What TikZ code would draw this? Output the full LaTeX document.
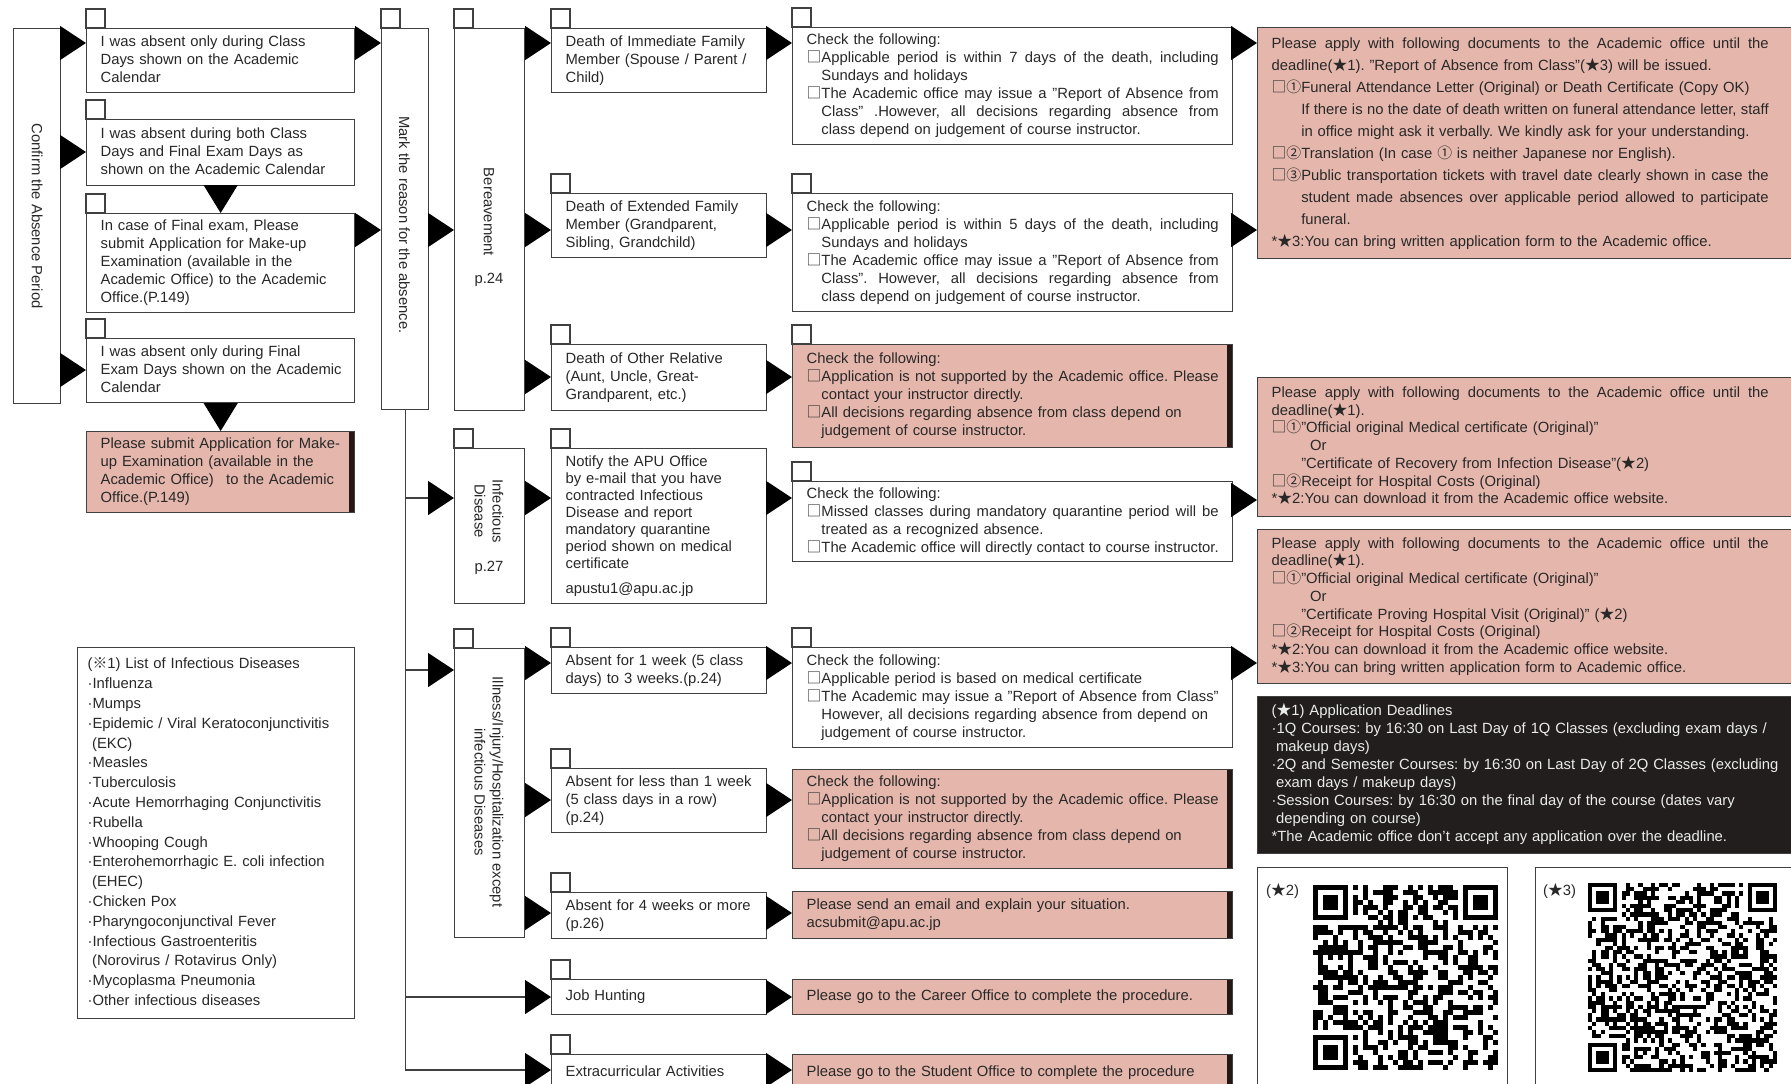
\documentclass[tikz,border=0pt]{standalone}
\usepackage{fontspec}
\setmainfont{Liberation Sans}
\newfontfamily\cjk{Noto Sans CJK JP}
\usetikzlibrary{arrows.meta,calc}
\frenchspacing
\definecolor{bd}{RGB}{64,64,64}
\definecolor{tx}{RGB}{40,40,40}
\definecolor{pk}{RGB}{229,183,172}
\definecolor{dk}{RGB}{35,24,21}
\definecolor{blk}{RGB}{35,30,30}
\newlength\jw
\newcommand\cb{{\cjk □}}
\newcommand\st{{\cjk ★}}
\newcommand\cn[1]{{\cjk #1}}
\newcommand\astk{\relax*}
\newcommand\JL[2][1em]{\hbox to \dimexpr\jw-#1\relax{\spaceskip=0.278em plus 1em minus 0.08em\relax #2}}
\newcommand\fs{\fontsize{14.8}{18}\selectfont}
\def\bxpad{14}
\tikzset{
 box/.style={draw=bd,line width=1.3pt,fill=white,inner xsep=\bxpad pt,inner ysep=0pt,anchor=north west,text=tx,font=\fs,align=left},
 pink/.style={fill=pk,path picture={\fill[dk] ([xshift=-6pt]path picture bounding box.north east) rectangle (path picture bounding box.south east);}},
 blackbox/.style={fill=blk,text=white!92!black},
 rot/.style={rotate=-90,font=\fs,text=tx,inner sep=0pt,align=center},
 lbl/.style={font=\fs,text=tx,inner sep=0pt},
 tabst/.style={draw=bd,line width=1.3pt,fill=white},
 tri/.style={draw=bd,line width=1.3pt,-{Triangle[length=26pt,width=34pt,color=black]}},
 trid/.style={draw=bd,line width=1.3pt,-{Triangle[length=28pt,width=34pt,color=black]}},
}
\newcommand\bx[7]{%
 \pgfmathsetmacro\bw{#4-#2}%
 \pgfmathsetmacro\bh{#5-#3}%
 \pgfmathsetmacro\tw{#4-#2-2*\bxpad}%
 \node[box,minimum width=\bw pt,minimum height=\bh pt,text width=\tw pt,#6] (#1) at (#2,#3) {\begin{tabular}{@{}l@{}}#7\end{tabular}};}
\newcommand\tab[1]{\draw[tabst] (#1.north west) rectangle ++(19,-19);}
\newcommand\rarr[3]{\draw[tri] (#1.east |- 0,#3) -- (#2.west |- 0,#3);}
\newcommand\qfind[3]{% x y m
 \fill[black] (#1,#2) rectangle ++(7*#3,7*#3);
 \fill[white] (#1+#3,#2+#3) rectangle ++(5*#3,5*#3);
 \fill[black] (#1+2*#3,#2+2*#3) rectangle ++(3*#3,3*#3);}
\newcommand\qrcode[5]{% x y n m seed
 \begin{scope}[shift={(#1,#2)}]
 \pgfmathsetseed{#5}%
 \pgfmathtruncatemacro\qn{#3-1}%
 \pgfmathtruncatemacro\qlim{#3-9}%
 \pgfmathsetmacro\qo{(#3-7)*#4}%
 \foreach \i in {0,...,\qn}{\foreach \j in {0,...,\qn}{%
   \pgfmathtruncatemacro\qskip{((\i<8)&&(\j<8))||((\i>\qlim)&&(\j<8))||((\i<8)&&(\j>\qlim))}%
   \ifnum\qskip=0
     \pgfmathtruncatemacro\qon{rnd<0.48}%
     \ifnum\qon=1 \fill[black] (\i*#4,\j*#4) rectangle ++(#4,#4);\fi
   \fi}}
 \qfind{0}{0}{#4}
 \qfind{\qo}{0}{#4}
 \qfind{0}{\qo}{#4}
 \end{scope}}
\begin{document}
\begin{tikzpicture}[x=1pt,y=-1pt]
\useasboundingbox (0,0) rectangle (1791,1084);
\clip (0,0) rectangle (1791,1084);
\fill[white] (0,0) rectangle (1791,1084);
% ---------- left column
\bx{confirm}{13}{28}{60}{403}{}{}
\node[rot] (confirmT) at (confirm.center) {Confirm the Absence Period};
\bx{b1}{86}{28}{354}{92}{}{I was absent only during Class\\Days shown on the Academic\\Calendar}
\bx{b2}{86}{119}{354}{185}{}{I was absent during both Class\\Days and Final Exam Days as\\shown on the Academic Calendar}
\bx{b3}{86}{213}{354}{312}{}{In case of Final exam, Please\\submit Application for Make-up\\Examination (available in the\\Academic Office) to the Academic\\Office.(P.149)}
\bx{b4}{86}{338}{354}{402}{}{I was absent only during Final\\Exam Days shown on the Academic\\Calendar}
\bx{p1}{86}{431}{354}{512}{pink}{Please submit Application for Make-\\up Examination (available in the\\Academic Office)\enspace\ to the Academic\\Office.(P.149)}
\foreach \n in {b1,b2,b3,b4} {\tab{\n}}
{\def\bxpad{10}
\bx{list}{77}{647}{354}{1018}{font=\fontsize{14.8}{19.8}\selectfont}{(\cn{※}1) List of Infectious Diseases\\·Influenza\\·Mumps\\·Epidemic / Viral Keratoconjunctivitis\\\hspace*{0.3em}(EKC)\\·Measles\\·Tuberculosis\\·Acute Hemorrhaging Conjunctivitis\\·Rubella\\·Whooping Cough\\·Enterohemorrhagic E. coli infection\\\hspace*{0.3em}(EHEC)\\·Chicken Pox\\·Pharyngoconjunctival Fever\\·Infectious Gastroenteritis\\\hspace*{0.3em}(Norovirus / Rotavirus Only)\\·Mycoplasma Pneumonia\\·Other infectious diseases}}
% ---------- reason column
\bx{mark}{381}{28}{428}{409}{}{}
\node[rot] (markT) at (404.5,225) {Mark the reason for the absence.};
\bx{ber}{454}{28}{524}{410}{}{}
\node[rot] (berT) at (489,212) {Bereavement};
\node[lbl] (berP) at (489,280) {p.24};
\bx{inf}{454}{448}{524}{603}{}{}
\node[rot] (infT) at (489,511) {Infectious\\Disease};
\node[lbl] (infP) at (489,568) {p.27};
\bx{ill}{454}{648}{524}{937}{}{}
\node[rot] (illT) at (489,792) {Illness/Injury/Hospitalization except\\infectious Diseases};
\foreach \n in {mark,ber,inf,ill} {\tab{\n}}
% ---------- situation column
\bx{d1}{551}{28}{766}{92}{}{Death of Immediate Family\\Member (Spouse / Parent /\\Child)}
\bx{d2}{551}{193}{766}{257}{}{Death of Extended Family\\Member (Grandparent,\\Sibling, Grandchild)}
\bx{d3}{551}{344}{766}{410}{}{Death of Other Relative\\(Aunt, Uncle, Great-\\Grandparent, etc.)}
\bx{nt}{551}{448}{766}{603}{font=\fontsize{14.8}{17}\selectfont}{Notify the APU Office\\by e-mail that you have\\contracted Infectious\\Disease and report\\mandatory quarantine\\period shown on medical\\certificate\\[8pt]apustu1@apu.ac.jp}
\bx{a1}{551}{647}{766}{693}{}{Absent for 1 week (5 class\\days) to 3 weeks.(p.24)}
\bx{a2}{551}{768}{766}{832}{}{Absent for less than 1 week\\(5 class days in a row)\\(p.24)}
\bx{a3}{551}{892}{766}{938}{}{Absent for 4 weeks or more\\(p.26)}
\bx{job}{551}{979}{766}{1014}{}{Job Hunting}
\bx{ext}{551}{1054}{766}{1090}{}{Extracurricular Activities}
\foreach \n in {d1,d2,d3,nt,a1,a2,a3,job,ext} {\tab{\n}}
% ---------- check column
\setlength\jw{412pt}
\bx{c1}{792}{27}{1232}{144}{}{Check the following:\\
\cb\JL{Applicable period is within 7 days of the death, including}\\
\hspace*{1em}Sundays and holidays\\
\cb\JL{The Academic office may issue a "Report of Absence from}\\
\hspace*{1em}\JL{Class" .However, all decisions regarding absence from}\\
\hspace*{1em}class depend on judgement of course instructor.}
\bx{c2}{792}{193}{1232}{311}{}{Check the following:\\
\cb\JL{Applicable period is within 5 days of the death, including}\\
\hspace*{1em}Sundays and holidays\\
\cb\JL{The Academic office may issue a "Report of Absence from}\\
\hspace*{1em}\JL{Class". However, all decisions regarding absence from}\\
\hspace*{1em}class depend on judgement of course instructor.}
\bx{c3}{792}{344}{1232}{447}{pink}{Check the following:\\
\cb\JL{Application is not supported by the Academic office. Please}\\
\hspace*{1em}contact your instructor directly.\\
\cb All decisions regarding absence from class depend on\\
\hspace*{1em}judgement of course instructor.}
\bx{c4}{792}{481}{1232}{561}{}{Check the following:\\
\cb\JL{Missed classes during mandatory quarantine period will be}\\
\hspace*{1em}treated as a recognized absence.\\
\cb\JL{The Academic office will directly contact to course instructor.}}
\bx{c5}{792}{647}{1232}{747}{}{Check the following:\\
\cb Applicable period is based on medical certificate\\
\cb\JL{The Academic may issue a "Report of Absence from Class"}\\
\hspace*{1em}However, all decisions regarding absence from depend on\\
\hspace*{1em}judgement of course instructor.}
\bx{c6}{792}{769}{1232}{868}{pink}{Check the following:\\
\cb\JL{Application is not supported by the Academic office. Please}\\
\hspace*{1em}contact your instructor directly.\\
\cb All decisions regarding absence from class depend on\\
\hspace*{1em}judgement of course instructor.}
\bx{em}{792}{891}{1232}{938}{pink}{Please send an email and explain your situation.\\acsubmit@apu.ac.jp}
\bx{car}{792}{979}{1232}{1014}{pink}{Please go to the Career Office to complete the procedure.}
\bx{stu}{792}{1054}{1232}{1090}{pink}{Please go to the Student Office to complete the procedure}
\foreach \n in {c1,c2,c3,c4,c5} {\tab{\n}}
% ---------- right column
\setlength\jw{497pt}
\bx{r1}{1257}{27}{1800}{258}{pink,font=\fontsize{14.8}{22}\selectfont}{\JL[0pt]{Please apply with following documents to the Academic office until the}\\
deadline(\st1). "Report of Absence from Class"(\st3) will be issued.\\
\cb\cn{①}Funeral Attendance Letter (Original) or Death Certificate (Copy OK)\\
\hspace*{2em}\JL[2em]{If there is no the date of death written on funeral attendance letter, staff}\\
\hspace*{2em}in office might ask it verbally. We kindly ask for your understanding.\\
\cb\cn{②}Translation (In case \cn{①} is neither Japanese nor English).\\
\cb\cn{③}\JL[2em]{Public transportation tickets with travel date clearly shown in case the}\\
\hspace*{2em}\JL[2em]{student made absences over applicable period allowed to participate}\\
\hspace*{2em}funeral.\\
\astk\st3:You can bring written application form to the Academic office.}
\bx{r2}{1257}{377}{1800}{516}{pink,font=\fontsize{14.8}{17.7}\selectfont}{\JL[0pt]{Please apply with following documents to the Academic office until the}\\
deadline(\st1).\\
\cb\cn{①}"Official original Medical certificate (Original)"\\
\hspace*{2.6em}Or\\
\hspace*{2em}"Certificate of Recovery from Infection Disease"(\st2)\\
\cb\cn{②}Receipt for Hospital Costs (Original)\\
\astk\st2:You can download it from the Academic office website.}
\bx{r3}{1257}{529}{1800}{683}{pink,font=\fontsize{14.8}{17.7}\selectfont}{\JL[0pt]{Please apply with following documents to the Academic office until the}\\
deadline(\st1).\\
\cb\cn{①}"Official original Medical certificate (Original)"\\
\hspace*{2.6em}Or\\
\hspace*{2em}"Certificate Proving Hospital Visit (Original)" (\st2)\\
\cb\cn{②}Receipt for Hospital Costs (Original)\\
\astk\st2:You can download it from the Academic office website.\\
\astk\st3:You can bring written application form to Academic office.}
\bx{blk}{1257}{696}{1800}{853}{blackbox}{(\st1) Application Deadlines\\
·1Q Courses: by 16:30 on Last Day of 1Q Classes (excluding exam days /\\
\hspace*{0.3em}makeup days)\\
·2Q and Semester Courses: by 16:30 on Last Day of 2Q Classes (excluding\\
\hspace*{0.3em}exam days / makeup days)\\
·Session Courses: by 16:30 on the final day of the course (dates vary\\
\hspace*{0.3em}depending on course)\\
\astk The Academic office don’t accept any application over the deadline.}
\bx{q2}{1257}{867}{1507}{1100}{}{}
\bx{q3}{1535}{867}{1800}{1100}{}{}
\node[lbl,anchor=north west] (q2L) at (1266,883) {(\st2)};
\node[lbl,anchor=north west] (q3L) at (1543,883) {(\st3)};
\qrcode{1313}{885}{37}{5}{42}
\qrcode{1588}{883}{45}{4.2}{7}
% ---------- connectors
\rarr{confirm}{b1}{43}
\rarr{confirm}{b2}{152}
\rarr{confirm}{b4}{370}
\draw[trid] (b2.south) -- (b3.north);
\draw[trid] (b4.south) -- (p1.north);
\rarr{b1}{mark}{43}
\rarr{b3}{mark}{230}
\rarr{mark}{ber}{230}
\coordinate (vend) at (mark.south |- 0,1070);
\draw[draw=bd,line width=1.3pt] (mark.south) -- (vend);
\draw[tri] (mark.south |- 0,498) -- (inf.west |- 0,498);
\draw[tri] (mark.south |- 0,670) -- (ill.west |- 0,670);
\draw[tri] (mark.south |- 0,997) -- (job.west |- 0,997);
\draw[tri] (vend) -- (ext.west |- 0,1070);
\rarr{ber}{d1}{43}
\rarr{ber}{d2}{230}
\rarr{ber}{d3}{377}
\rarr{d1}{c1}{43}
\rarr{d2}{c2}{230}
\rarr{d3}{c3}{377}
\rarr{c1}{r1}{43}
\rarr{c2}{r1}{230}
\rarr{inf}{nt}{498}
\rarr{nt}{c4}{498}
\rarr{c4}{r2}{500}
\rarr{ill}{a1}{663}
\rarr{ill}{a2}{800}
\rarr{ill}{a3}{913}
\rarr{a1}{c5}{663}
\rarr{c5}{r3}{663}
\rarr{a2}{c6}{800}
\rarr{a3}{em}{913}
\rarr{job}{car}{997}
\rarr{ext}{stu}{1070}
\end{tikzpicture}
\end{document}
